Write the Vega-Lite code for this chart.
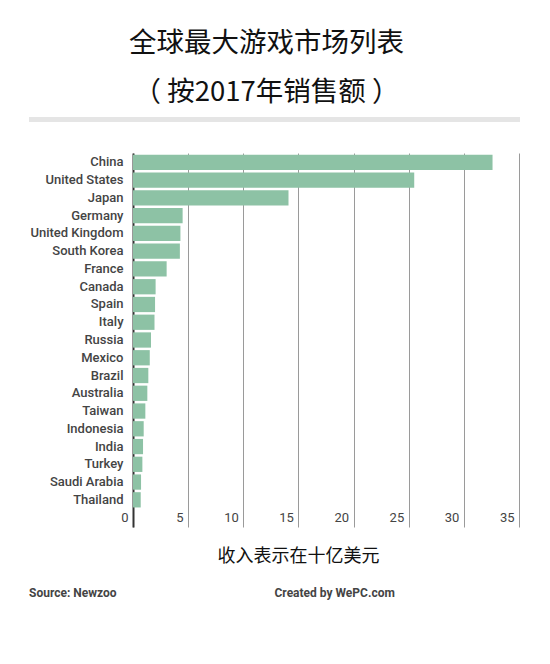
{
  "$schema": "https://vega.github.io/schema/vega-lite/v6.json",
  "padding": {"left": 29, "top": 30, "right": 5, "bottom": 5},
  "background": "white",
  "title": {
    "text": ["全球最大游戏市场列表", "（\u00a0按2017年销售额\u00a0）\u3000"],
    "font": "Noto Sans CJK SC",
    "fontSize": 27.5,
    "fontWeight": "normal",
    "color": "#111111",
    "lineHeight": 49,
    "anchor": "middle",
    "dx": -8,
    "offset": 10
  },
  "config": {
    "view": {"stroke": null},
    "font": "Roboto"
  },
  "spacing": 30,
  "vconcat": [
    {
      "width": 491,
      "height": 5,
      "view": {"fill": "#e5e5e5", "stroke": null},
      "data": {"values": [{"k": 1}]},
      "mark": {"type": "point", "opacity": 0},
      "encoding": {}
    },
    {
      "spacing": 18,
      "vconcat": [
        {
          "width": 491,
          "height": 374,
          "data": {
            "values": [
              {"country": "China", "revenue": 32.6},
              {"country": "United States", "revenue": 25.5},
              {"country": "Japan", "revenue": 14.1},
              {"country": "Germany", "revenue": 4.5},
              {"country": "United Kingdom", "revenue": 4.3},
              {"country": "South Korea", "revenue": 4.25},
              {"country": "France", "revenue": 3.05},
              {"country": "Canada", "revenue": 2.05},
              {"country": "Spain", "revenue": 2.0},
              {"country": "Italy", "revenue": 1.95},
              {"country": "Russia", "revenue": 1.63},
              {"country": "Mexico", "revenue": 1.52},
              {"country": "Brazil", "revenue": 1.39},
              {"country": "Australia", "revenue": 1.3},
              {"country": "Taiwan", "revenue": 1.12},
              {"country": "Indonesia", "revenue": 0.97},
              {"country": "India", "revenue": 0.91},
              {"country": "Turkey", "revenue": 0.85},
              {"country": "Saudi Arabia", "revenue": 0.73},
              {"country": "Thailand", "revenue": 0.7}
            ]
          },
          "mark": {"type": "bar", "color": "#8dc2a5"},
          "encoding": {
            "y": {
              "field": "country",
              "type": "nominal",
              "sort": null,
              "scale": {
                "domain": ["China", "United States", "Japan", "Germany", "United Kingdom", "South Korea", "France", "Canada", "Spain", "Italy", "Russia", "Mexico", "Brazil", "Australia", "Taiwan", "Indonesia", "India", "Turkey", "Saudi Arabia", "Thailand", " "],
                "paddingInner": 0.14,
                "paddingOuter": 0.1
              },
              "axis": {
                "title": null,
                "offset": -104,
                "ticks": false,
                "domain": true,
                "domainColor": "#333333",
                "domainWidth": 2,
                "labelFont": "Roboto",
                "labelFontSize": 13,
                "labelFontWeight": 500,
                "labelColor": "#444444",
                "labelPadding": 10,
                "grid": false
              }
            },
            "x": {
              "field": "revenue",
              "type": "quantitative",
              "scale": {"domain": [0, 35], "nice": false, "range": [104, 490]},
              "axis": {
                "values": [0, 5, 10, 15, 20, 25, 30, 35],
                "grid": true,
                "gridColor": "#9a9a9a",
                "gridWidth": 1,
                "domain": false,
                "ticks": false,
                "labelAlign": "right",
                "labelBaseline": "middle",
                "labelPadding": -10,
                "labelOffset": -5,
                "labelFont": "Roboto",
                "labelFontSize": 13,
                "labelColor": "#444444",
                "title": "收入表示在十亿美元",
                "titleFont": "Noto Sans CJK SC",
                "titleFontSize": 18,
                "titleFontWeight": "normal",
                "titleColor": "#111111",
                "titlePadding": 20,
                "titleX": 269
              }
            }
          }
        },
        {
          "width": 491,
          "height": 20,
          "data": {"values": [{"t": "Source: Newzoo"}, {"t": "Created by WePC.com"}]},
          "mark": {"type": "text", "align": "left", "baseline": "middle", "font": "Roboto", "fontSize": 12, "fontWeight": "bold", "color": "#444444"},
          "encoding": {
            "x": {"field": "t", "type": "nominal", "sort": null, "scale": {"type": "point", "padding": 0, "domain": ["Source: Newzoo", "Created by WePC.com", "_"]}, "axis": null},
            "text": {"field": "t"}
          }
        }
      ]
    }
  ]
}
